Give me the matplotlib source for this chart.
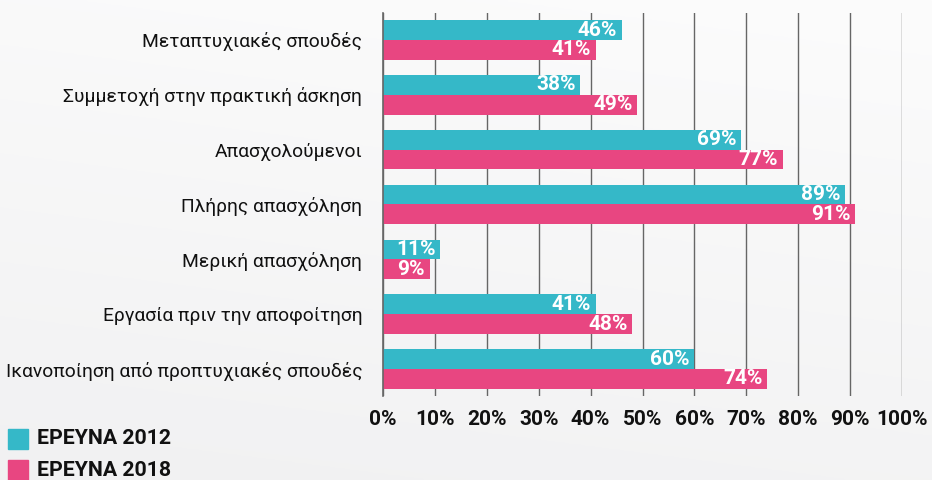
import numpy as np
import matplotlib
matplotlib.use("Agg")
import matplotlib.pyplot as plt
from matplotlib.patches import Rectangle

categories = [
    "Μεταπτυχιακές σπουδές",
    "Συμμετοχή στην πρακτική άσκηση",
    "Απασχολούμενοι",
    "Πλήρης απασχόληση",
    "Μερική απασχόληση",
    "Εργασία πριν την αποφοίτηση",
    "Ικανοποίηση από προπτυχιακές σπουδές",
]
values_2012 = [46, 38, 69, 89, 11, 41, 60]
values_2018 = [41, 49, 77, 91, 9, 48, 74]
series_names = ["ΕΡΕΥΝΑ 2012", "ΕΡΕΥΝΑ 2018"]
xticks = [0, 10, 20, 30, 40, 50, 60, 70, 80, 90, 100]

TEAL = "#35b8c8"
PINK = "#e84681"
plt.rcParams['font.family'] = ['Roboto', 'DejaVu Sans']

W, H = 932, 480
fig = plt.figure(figsize=(W / 100, H / 100), dpi=100)

# background gradient
bg = fig.add_axes([0, 0, 1, 1], zorder=-10)
yy, xx = np.mgrid[0:1:200j, 0:1:200j]
t = 0.8 * yy + 0.2 * xx  # 0 bottom-left -> 1 top-right
c0 = np.array([0xf1, 0xf1, 0xf2]) / 255
c1 = np.array([0xfc, 0xfc, 0xfc]) / 255
img = c0[None, None, :] * (1 - t[..., None]) + c1[None, None, :] * t[..., None]
bg.imshow(img, origin="lower", extent=[0, 1, 0, 1], aspect="auto")
bg.axis("off")

left = 383 / W
right = 902 / W
top = 1 - 13 / H
bottom = 1 - 396 / H
ax = fig.add_axes([left, bottom, right - left, top - bottom])
ax.set_facecolor("none")

n = len(categories)
y = np.arange(n)
h = 0.36
b1 = ax.barh(y - h / 2, values_2012, height=h, color=TEAL, zorder=3)
b2 = ax.barh(y + h / 2, values_2018, height=h, color=PINK, zorder=3)

for bars, vals in ((b1, values_2012), (b2, values_2018)):
    for rect, v in zip(bars, vals):
        ax.text(v - 0.9, rect.get_y() + rect.get_height() / 2, f"{v}%",
                ha="right", va="center", color="white", fontsize=15,
                fontweight="bold", zorder=4)

ax.set_xlim(0, 100)
ax.set_ylim(n - 1 + 0.49, -0.49)
ax.set_xticks(xticks)
ax.set_xticklabels([f"{v}%" for v in xticks], fontsize=15, fontweight="bold")
ax.tick_params(axis="x", length=0, pad=10, colors="#111111")
ax.set_yticks(y)
ax.set_yticklabels(categories, fontsize=13.9, color="#111111")
ax.tick_params(axis="y", length=0, pad=15)
ax.xaxis.grid(True, color="#666666", linewidth=1.0, zorder=0)
for s in ["top", "right", "bottom"]:
    ax.spines[s].set_visible(False)
ax.spines["left"].set_color("#666666")
ax.spines["left"].set_linewidth(1.2)
ax.spines["left"].set_zorder(5)

# legend
for i, (name, col) in enumerate(zip(series_names, [TEAL, PINK])):
    ytop = 429 + i * 31
    fig.patches.append(Rectangle((8 / W, 1 - (ytop + 20) / H), 20 / W, 20 / H,
                                 transform=fig.transFigure, color=col))
    fig.text(37 / W, 1 - (ytop + 10) / H, name, ha="left", va="center",
             fontsize=15.3, fontweight="bold", color="#111111")

fig.savefig("out.png", dpi=100)
